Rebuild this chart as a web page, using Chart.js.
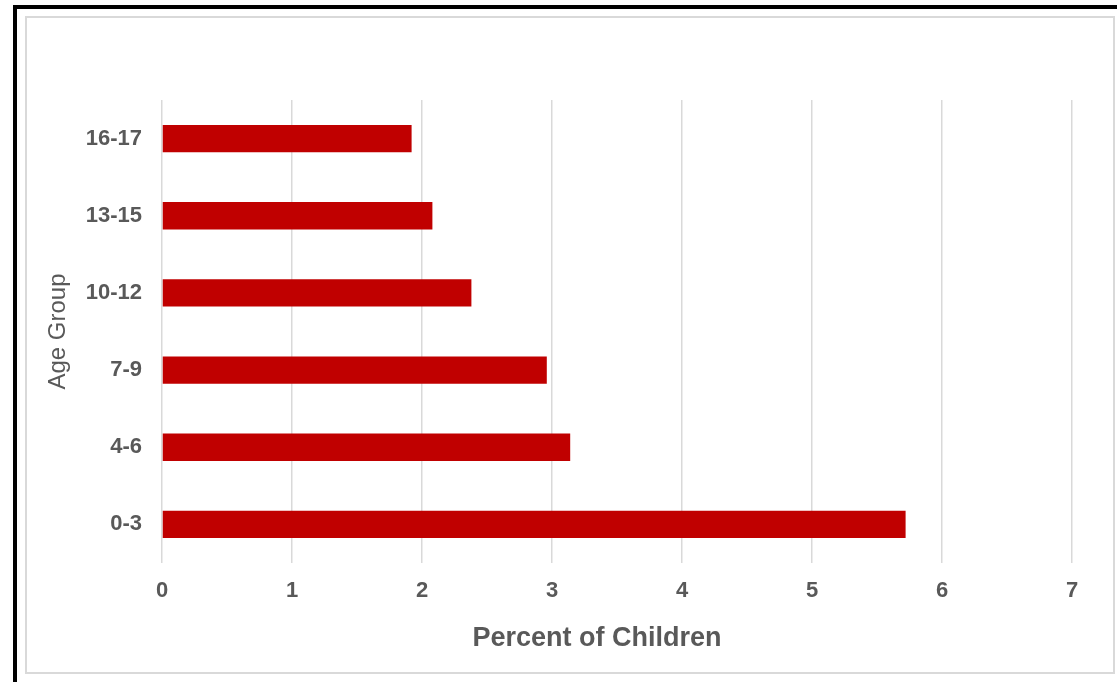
<!DOCTYPE html>
<html>
<head>
<meta charset="utf-8">
<script src="https://cdn.jsdelivr.net/npm/chart.js@4/dist/chart.umd.min.js"></script>
<style>
    body { margin: 0; background: #fff; }
    #wrap { position: relative; width: 1117px; height: 682px; overflow: hidden; }
    #outer { position: absolute; left: 13px; top: 5px; right: -10px; bottom: -10px; border-left: 4px solid #000; border-top: 4px solid #000; }
    #inner { position: absolute; left: 25px; top: 16px; width: 1086px; height: 654px; border: 2px solid #d9d9d9; }
    #chart { position: absolute; left: 0; top: 0; }
</style>
</head>
<body>
<div id="wrap">
    <div id="outer"></div>
    <div id="inner"></div>
    <canvas id="chart" width="1117" height="682"></canvas>
</div>
<script>
    // Age groups, bottom to top as in the picture
    const ageGroups = ['0-3', '4-6', '7-9', '10-12', '13-15', '16-17'];
    const percentValues = [5.72, 3.14, 2.96, 2.38, 2.08, 1.92];
    const xTicks = [0, 1, 2, 3, 4, 5, 6, 7];
    const xTitle = 'Percent of Children';

    const textGray = '#595959';
    const gridGray = '#d9d9d9';

    // The x title sits a bit left of the plot centre, so draw it ourselves
    const xTitlePlugin = {
        id: 'xTitle',
        afterDraw(chart) {
            const { ctx, chartArea } = chart;
            ctx.save();
            ctx.font = 'bold 27px "Liberation Sans"';
            ctx.fillStyle = textGray;
            ctx.textAlign = 'center';
            ctx.textBaseline = 'middle';
            ctx.fillText(xTitle, (chartArea.left + chartArea.right) / 2 - 20, chartArea.bottom + 76);
            ctx.restore();
        },
    };

    new Chart(document.getElementById('chart').getContext('2d'), {
        type: 'bar',
        data: {
            labels: ageGroups,
            datasets: [
                {
                    label: xTitle,
                    data: percentValues,
                    backgroundColor: '#c00000',
                    borderWidth: 0,
                    categoryPercentage: 1,
                    barPercentage: 0.355,
                },
            ],
        },
        options: {
            indexAxis: 'y',
            responsive: false,
            animation: false,
            layout: {
                padding: { top: 100, right: 45, bottom: 0, left: 30 },
            },
            plugins: {
                legend: { display: false },
                tooltip: { enabled: false },
            },
            scales: {
                x: {
                    min: xTicks[0],
                    max: xTicks[xTicks.length - 1],
                    afterBuildTicks: (scale) => {
                        scale.ticks = xTicks.map(v => ({ value: v }));
                    },
                    afterFit: (scale) => {
                        scale.height = 119;
                    },
                    grid: {
                        color: gridGray,
                        lineWidth: 1.5,
                        drawTicks: false,
                    },
                    border: { display: false },
                    ticks: {
                        padding: 15,
                        color: textGray,
                        font: { family: 'Liberation Sans', size: 22, weight: 'bold' },
                    },
                },
                y: {
                    reverse: true,
                    afterFit: (scale) => {
                        scale.width = 132;
                    },
                    grid: { display: false, drawTicks: false },
                    border: { display: false },
                    ticks: {
                        padding: 20,
                        color: textGray,
                        font: { family: 'Liberation Sans', size: 22, weight: 'bold' },
                    },
                    title: {
                        display: true,
                        text: 'Age Group',
                        color: textGray,
                        font: { family: 'Liberation Sans', size: 24 },
                        padding: { top: 14, bottom: 0 },
                    },
                },
            },
        },
        plugins: [xTitlePlugin],
    });
</script>
</body>
</html>
